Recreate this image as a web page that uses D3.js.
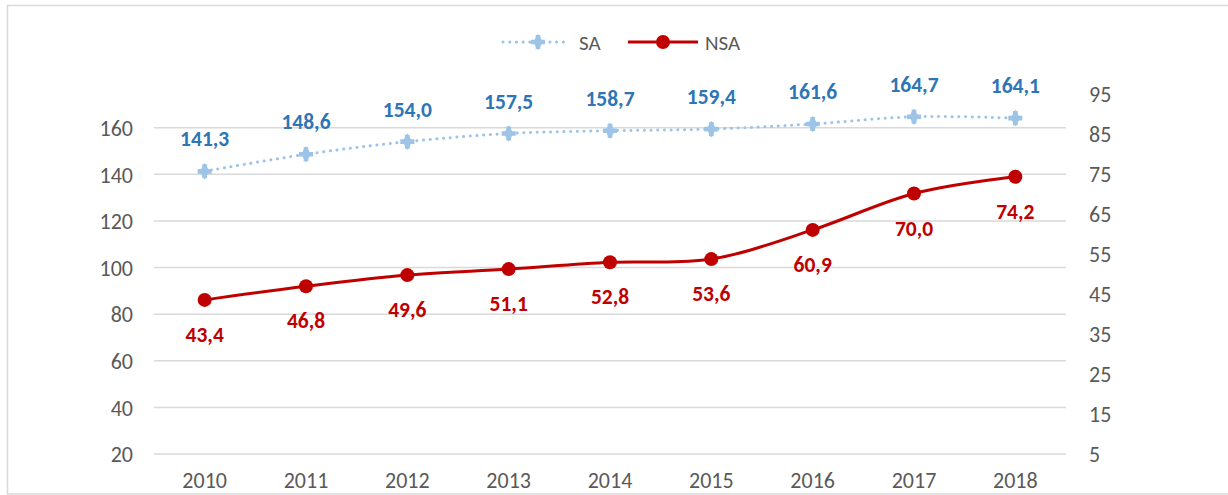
<!DOCTYPE html>
<html>
<head>
<meta charset="utf-8">
<script src="https://cdn.jsdelivr.net/npm/d3@7"></script>
<style>
  html, body { margin: 0; padding: 0; background: #fff; }
  svg { display: block; }
  text { font-family: Carlito, Calibri, Lato, "Open Sans", sans-serif; }
</style>
</head>
<body>
<svg id="chart" width="1228" height="495"></svg>
<script>
const years = ["2010","2011","2012","2013","2014","2015","2016","2017","2018"];
const saValues = [141.3, 148.6, 154.0, 157.5, 158.7, 159.4, 161.6, 164.7, 164.1];
const nsaValues = [43.4, 46.8, 49.6, 51.1, 52.8, 53.6, 60.9, 70.0, 74.2];
const leftTicks = [20, 40, 60, 80, 100, 120, 140, 160];
const rightTicks = [5, 15, 25, 35, 45, 55, 65, 75, 85, 95];
const seriesNames = ["SA", "NSA"];

const W = 1228, H = 495;
const svg = d3.select("#chart");
const FONT = "Carlito, Calibri, Lato, sans-serif";
const TICK_FS = 22;
const LABEL_FS = 21.5;

const fmt = v => d3.format(".1f")(v).replace(".", ",");

const x = d3.scaleBand().domain(years).range([154, 1066]);
const xc = d => x(d) + x.bandwidth() / 2;
const yL = d3.scaleLinear().domain([20, 160]).range([454, 127.7]);
const yR = d3.scaleLinear().domain([5, 95]).range([453.5, 93.5]);

// chart border
svg.append("rect")
  .attr("x", 7.5).attr("y", 5.5)
  .attr("width", W + 10).attr("height", 488.5)
  .attr("fill", "none").attr("stroke", "#D9D9D9").attr("stroke-width", 1.5);

// gridlines
svg.append("g").selectAll("line").data(leftTicks).join("line")
  .attr("x1", 154).attr("x2", 1066)
  .attr("y1", d => yL(d)).attr("y2", d => yL(d))
  .attr("stroke", "#D9D9D9").attr("stroke-width", 1.5);

// left axis
const axL = svg.append("g").attr("transform", "translate(133,0)")
  .call(d3.axisLeft(yL).tickValues(leftTicks).tickSize(0).tickPadding(0));
axL.select(".domain").remove();
axL.selectAll("text").attr("font-size", TICK_FS).attr("fill", "#595959")
  .attr("font-family", FONT).attr("dy", "0.35em");

// right axis
const axR = svg.append("g").attr("transform", "translate(1089,0)")
  .call(d3.axisRight(yR).tickValues(rightTicks).tickSize(0).tickPadding(0));
axR.select(".domain").remove();
axR.selectAll("text").attr("font-size", TICK_FS).attr("fill", "#595959")
  .attr("font-family", FONT).attr("dy", "0.35em");

// bottom axis
const axB = svg.append("g").attr("transform", "translate(0,488)")
  .call(d3.axisBottom(x).tickSize(0).tickPadding(0));
axB.select(".domain").remove();
axB.selectAll("text").attr("font-size", TICK_FS).attr("fill", "#595959")
  .attr("font-family", FONT).attr("y", 0).attr("dy", 0);

const curve = d3.curveCatmullRom.alpha(0);

// SA line (left axis)
const saLine = d3.line().x((d, i) => xc(years[i])).y(d => yL(d)).curve(curve);
svg.append("path").datum(saValues).attr("d", saLine)
  .attr("fill", "none").attr("stroke", "#9DC3E6").attr("stroke-width", 3)
  .attr("stroke-linecap", "round").attr("stroke-dasharray", "0.1,6.6");

// NSA line (right axis)
const nsaLine = d3.line().x((d, i) => xc(years[i])).y(d => yR(d)).curve(curve);
svg.append("path").datum(nsaValues).attr("d", nsaLine)
  .attr("fill", "none").attr("stroke", "#C00000").attr("stroke-width", 3);

// SA markers
const crossPath = d3.symbol().type(d3.symbolCross).size(110)();
const diamondPath = d3.symbol().type(d3.symbolDiamond).size(80)();
const saM = svg.append("g").selectAll("g").data(saValues).join("g")
  .attr("transform", (d, i) => `translate(${xc(years[i])},${yL(d)})`);
saM.append("path").attr("d", crossPath).attr("fill", "#9DC3E6");
saM.append("path").attr("d", diamondPath).attr("fill", "#9DC3E6");

// NSA markers
svg.append("g").selectAll("circle").data(nsaValues).join("circle")
  .attr("cx", (d, i) => xc(years[i])).attr("cy", d => yR(d)).attr("r", 7)
  .attr("fill", "#C00000");

// SA labels
svg.append("g").selectAll("text").data(saValues).join("text")
  .attr("x", (d, i) => xc(years[i])).attr("y", d => yL(d) - 25)
  .attr("text-anchor", "middle").attr("font-size", LABEL_FS).attr("font-weight", "bold")
  .attr("fill", "#2E75B6").text(d => fmt(d));

// NSA labels
svg.append("g").selectAll("text").data(nsaValues).join("text")
  .attr("x", (d, i) => xc(years[i])).attr("y", d => yR(d) + 42)
  .attr("text-anchor", "middle").attr("font-size", LABEL_FS).attr("font-weight", "bold")
  .attr("fill", "#C00000").text(d => fmt(d));

// legend
const lg = svg.append("g");
const ly = 42;
lg.append("line").attr("x1", 503).attr("x2", 568).attr("y1", ly).attr("y2", ly)
  .attr("stroke", "#9DC3E6").attr("stroke-width", 3)
  .attr("stroke-linecap", "round").attr("stroke-dasharray", "0.1,6.6");
const lgM = lg.append("g").attr("transform", `translate(538,${ly})`);
lgM.append("path").attr("d", crossPath).attr("fill", "#9DC3E6");
lgM.append("path").attr("d", diamondPath).attr("fill", "#9DC3E6");
lg.append("text").attr("x", 579).attr("y", ly + 7.5).attr("font-size", 21)
  .attr("fill", "#595959").text(seriesNames[0]);
lg.append("line").attr("x1", 628).attr("x2", 698).attr("y1", ly).attr("y2", ly)
  .attr("stroke", "#C00000").attr("stroke-width", 3);
lg.append("circle").attr("cx", 663).attr("cy", ly).attr("r", 7).attr("fill", "#C00000");
lg.append("text").attr("x", 705).attr("y", ly + 7.5).attr("font-size", 21)
  .attr("fill", "#595959").text(seriesNames[1]);
</script>
</body>
</html>
